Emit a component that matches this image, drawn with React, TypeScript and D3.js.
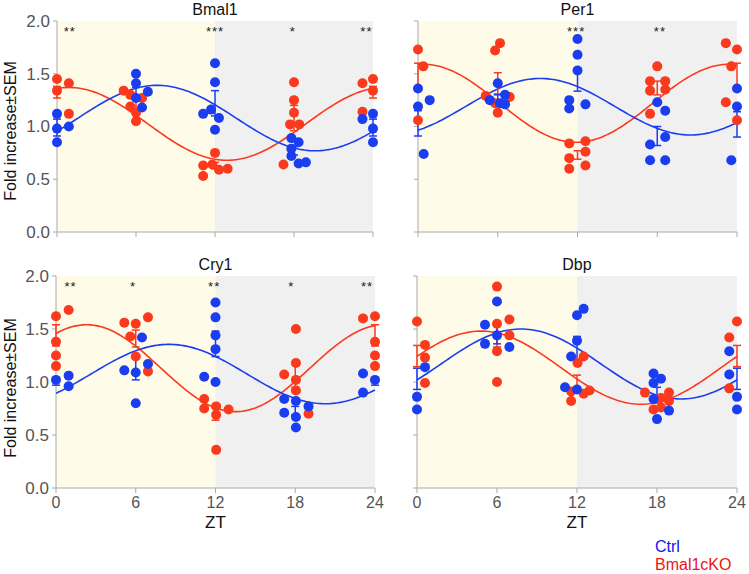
import * as d3 from "d3";

type Pt = [number, number]; // [ZT where the dot sits, fold increase]
type Bar = [number, number, number]; // [ZT, mean, SEM]
type Fit = { mesor: number; amp: number; acro: number; period: number };
type Star = [number, string];

const ztTicks = [0, 6, 12, 18, 24];
const foldTicks = [0, 0.5, 1, 1.5, 2];

// ---- Bmal1 ----
const bmal1Ctrl: Pt[] = [
  [0, 1.12], [0, 0.98], [0, 0.85], [0.9, 1.0],
  [6, 1.5], [6, 1.41], [6, 1.27], [6.46, 1.18], [6.9, 1.33],
  [12, 1.6], [12, 1.42], [12, 0.97], [11.1, 1.12], [11.7, 1.16], [12.3, 1.08],
  [17.8, 0.89], [17.8, 0.79], [17.8, 0.72], [18.35, 0.85], [18.35, 0.65], [18.9, 0.66],
  [24, 1.12], [24, 0.98], [24, 0.85], [23.2, 1.07],
];
const bmal1Ko: Pt[] = [
  [0, 1.45], [0, 1.34], [0.9, 1.41], [0.9, 1.12],
  [5.06, 1.34], [5.57, 1.3], [5.57, 1.19], [6, 1.13], [6, 1.05], [6.46, 1.27],
  [11.1, 0.53], [11.1, 0.63], [11.8, 0.64], [12, 0.75], [12.3, 0.59], [12.96, 0.6],
  [17.2, 0.64], [18, 1.42], [18, 1.25], [18, 1.13], [17.7, 1.02], [18.4, 1.02],
  [24, 1.45], [24, 1.34], [23.2, 1.41], [23.2, 1.14],
];
const bmal1CtrlBars: Bar[] = [[0, 0.99, 0.08], [6, 1.32, 0.05], [12, 1.22, 0.12], [18, 0.77, 0.04], [24, 0.99, 0.08]];
const bmal1KoBars: Bar[] = [[0, 1.325, 0.055], [6, 1.21, 0.05], [12, 0.63, 0.03], [18, 1.08, 0.12], [24, 1.325, 0.055]];
const bmal1CtrlFit: Fit = { mesor: 1.08, amp: 0.31, acro: 7.6, period: 24 };
const bmal1KoFit: Fit = { mesor: 1.025, amp: 0.345, acro: 0.9, period: 24 };
const bmal1Stars: Star[] = [[0.97, "**"], [12, "***"], [17.9, "*"], [23.5, "**"]];

// ---- Per1 ----
const per1Ctrl: Pt[] = [
  [0, 1.36], [0, 1.19], [0.88, 1.25], [0.43, 0.74],
  [6, 1.41], [5.4, 1.25], [6.17, 1.22], [6.55, 1.3], [6.55, 1.21],
  [12, 1.83], [12, 1.68], [12, 1.53], [11.38, 1.25], [11.38, 1.17], [12.6, 1.21],
  [17.46, 0.83], [17.46, 0.68], [18, 1.23], [18.6, 1.15], [18.6, 0.9], [18.6, 0.68],
  [24, 1.36], [24, 1.19], [23.57, 0.68],
];
const per1Ko: Pt[] = [
  [0, 1.73], [0.4, 1.57], [0, 1.06],
  [5.8, 1.72], [6.17, 1.79], [5.1, 1.29], [5.8, 1.22], [6.0, 1.13], [6.9, 1.28],
  [11.38, 0.84], [11.38, 0.7], [11.38, 0.6], [12.6, 0.86], [12.6, 0.76], [12.6, 0.63],
  [17.46, 1.43], [17.46, 1.34], [17.46, 1.12], [18, 1.57], [18.6, 1.43], [18.6, 1.35],
  [23.16, 1.79], [24, 1.73], [23.57, 1.57], [23.16, 1.23], [24, 1.06],
];
const per1CtrlBars: Bar[] = [[0, 1.03, 0.12], [6, 1.27, 0.03], [12, 1.445, 0.11], [18, 0.91, 0.09], [24, 1.02, 0.12]];
const per1KoBars: Bar[] = [[0, 1.485, 0.115], [6, 1.41, 0.1], [12, 0.73, 0.04], [18, 1.365, 0.065], [24, 1.485, 0.115]];
const per1CtrlFit: Fit = { mesor: 1.1875, amp: 0.2675, acro: 9.2, period: 22.6 };
const per1KoFit: Fit = { mesor: 1.22, amp: 0.37, acro: 0.4, period: 23 };
const per1Stars: Star[] = [[11.9, "***"], [18.2, "**"]];

// ---- Cry1 ----
const cry1Ctrl: Pt[] = [
  [0, 1.02], [0.95, 1.06], [0.95, 0.96],
  [5.14, 1.11], [6, 1.09], [6, 0.8], [6.47, 1.42], [6.92, 1.17],
  [12, 1.75], [12, 1.61], [12, 1.44], [12, 1.31], [12, 1.0], [11.15, 1.05],
  [17.17, 0.84], [17.17, 0.71], [18.05, 0.82], [18.05, 0.67], [18.05, 0.57], [19, 0.77],
  [23.1, 1.08], [23.1, 0.9], [24, 1.02],
];
const cry1Ko: Pt[] = [
  [0, 1.62], [0, 1.38], [0, 1.25], [0, 1.15], [0.95, 1.68],
  [5.14, 1.56], [5.59, 1.43], [6, 1.55], [6, 1.24], [6.92, 1.61], [6.92, 1.1],
  [11.15, 0.84], [11.15, 0.75], [12.05, 0.77], [12.05, 0.69], [12.98, 0.74], [12.05, 0.36],
  [17.17, 1.07], [18.05, 1.5], [18.05, 1.18], [18.05, 1.02], [18.05, 0.92], [19, 0.7],
  [23.1, 1.6], [24, 1.62], [24, 1.38], [24, 1.25], [24, 1.15],
];
const cry1CtrlBars: Bar[] = [[0, 1.0, 0.03], [6, 1.13, 0.11], [12, 1.36, 0.12], [18, 0.73, 0.04], [24, 1.0, 0.03]];
const cry1KoBars: Bar[] = [[0, 1.44, 0.1], [6, 1.41, 0.08], [12, 0.7, 0.06], [18, 1.06, 0.11], [24, 1.44, 0.1]];
const cry1CtrlFit: Fit = { mesor: 1.075, amp: 0.28, acro: 8.5, period: 23.5 };
const cry1KoFit: Fit = { mesor: 1.13, amp: 0.41, acro: 2.3, period: 22.4 };
const cry1Stars: Star[] = [[1.1, "**"], [5.8, "*"], [11.9, "**"], [17.7, "*"], [23.4, "**"]];

// ---- Dbp ----
const dbpCtrl: Pt[] = [
  [0, 0.86], [0, 0.74], [0.6, 1.14],
  [6, 1.76], [5.1, 1.54], [5.1, 1.36], [6, 1.44], [6.93, 1.33],
  [12, 1.63], [12.5, 1.69], [12, 1.39], [11.56, 1.24], [11.1, 0.95], [12, 0.93],
  [17.74, 1.08], [17.74, 0.99], [17.74, 0.84], [18.3, 1.03], [18, 0.65], [18.9, 0.73],
  [23.42, 1.29], [23.42, 1.07], [24, 0.86], [24, 0.74],
];
const dbpKo: Pt[] = [
  [0, 1.57], [0.6, 1.35], [0.6, 1.23], [0.6, 0.99],
  [6, 1.9], [6, 1.55], [6, 1.29], [6, 1.0], [6.93, 1.59], [6.93, 1.44],
  [11.56, 0.91], [11.56, 0.82], [12.04, 1.18], [12.5, 1.24], [12.5, 0.89], [12.94, 0.92],
  [17.1, 0.9], [17.74, 0.74], [18.3, 0.85], [18.3, 0.76], [18.9, 0.9], [18.9, 0.82],
  [24, 1.57], [23.42, 1.42], [23.42, 0.94],
];
const dbpCtrlBars: Bar[] = [[0, 1.03, 0.1], [6, 1.46, 0.1], [12, 1.3, 0.13], [18, 0.9, 0.05], [24, 1.03, 0.1]];
const dbpKoBars: Bar[] = [[0, 1.245, 0.1], [6, 1.43, 0.1], [12, 1.01, 0.055], [18, 0.83, 0.03], [24, 1.245, 0.1]];
const dbpCtrlFit: Fit = { mesor: 1.17, amp: 0.33, acro: 7.8, period: 24 };
const dbpKoFit: Fit = { mesor: 1.135, amp: 0.345, acro: 4.8, period: 24 };
const dbpStars: Star[] = [];

const BLUE = "#1b3df0";
const RED = "#fb3a1d";
const FONT = "'Liberation Sans', Arial, Helvetica, sans-serif";

const panels = [
  { title: "Bmal1", ctrl: bmal1Ctrl, ko: bmal1Ko, ctrlBars: bmal1CtrlBars, koBars: bmal1KoBars, ctrlFit: bmal1CtrlFit, koFit: bmal1KoFit, stars: bmal1Stars, left: 57, right: 373, top: 21, bottom: 232, yLabels: true, xLabels: false },
  { title: "Per1", ctrl: per1Ctrl, ko: per1Ko, ctrlBars: per1CtrlBars, koBars: per1KoBars, ctrlFit: per1CtrlFit, koFit: per1KoFit, stars: per1Stars, left: 418, right: 737, top: 21, bottom: 232, yLabels: false, xLabels: false },
  { title: "Cry1", ctrl: cry1Ctrl, ko: cry1Ko, ctrlBars: cry1CtrlBars, koBars: cry1KoBars, ctrlFit: cry1CtrlFit, koFit: cry1KoFit, stars: cry1Stars, left: 56, right: 375, top: 276, bottom: 488, yLabels: true, xLabels: true },
  { title: "Dbp", ctrl: dbpCtrl, ko: dbpKo, ctrlBars: dbpCtrlBars, koBars: dbpKoBars, ctrlFit: dbpCtrlFit, koFit: dbpKoFit, stars: dbpStars, left: 417, right: 737, top: 276, bottom: 488, yLabels: false, xLabels: true },
];

function Panel({ p }: { p: (typeof panels)[number] }) {
  const x = d3.scaleLinear().domain([0, 24]).range([p.left, p.right]);
  const y = d3.scaleLinear().domain([0, 2]).range([p.bottom, p.top]);
  const fmt = d3.format(".1f");
  const line = d3.line<number>().x((t) => x(t));
  const fitPath = (f: Fit) =>
    line.y((t) => y(f.mesor + f.amp * Math.cos((2 * Math.PI * (t - f.acro)) / f.period)))(d3.range(0, 24.01, 0.2)) || "";

  const bars = (b: Bar[], color: string) =>
    b.map(([t, m, s], i) => (
      <g key={i} stroke={color} strokeWidth={1.5}>
        <line x1={x(t)} x2={x(t)} y1={y(m - s)} y2={y(m + s)} />
        <line x1={x(t) - 4} x2={x(t) + 4} y1={y(m - s)} y2={y(m - s)} />
        <line x1={x(t) - 4} x2={x(t) + 4} y1={y(m + s)} y2={y(m + s)} />
      </g>
    ));

  const dots = (pts: Pt[], color: string) =>
    pts.map(([t, v], i) => <circle key={i} cx={x(t)} cy={y(v)} r={5} fill={color} />);

  const midX = (p.left + p.right) / 2;

  return (
    <g fontFamily={FONT}>
      <rect x={x(0)} y={y(2)} width={x(12) - x(0)} height={y(0) - y(2)} fill="#fefce9" />
      <rect x={x(12)} y={y(2)} width={x(24) - x(12)} height={y(0) - y(2)} fill="#f0f0f0" />

      {/* axes */}
      <g stroke="#aaaaaa" strokeWidth={1}>
        <line x1={x(0)} x2={x(0)} y1={y(0)} y2={y(2)} />
        <line x1={x(0)} x2={x(24)} y1={y(0)} y2={y(0)} />
        {foldTicks.map((v) => (
          <line key={v} x1={x(0) - 4} x2={x(0)} y1={y(v)} y2={y(v)} />
        ))}
        {ztTicks.map((t) => (
          <line key={t} x1={x(t)} x2={x(t)} y1={y(0)} y2={y(0) + 5} />
        ))}
      </g>
      {p.yLabels &&
        foldTicks.map((v) => (
          <text key={v} x={x(0) - 7} y={y(v)} dy="0.35em" textAnchor="end" fontSize={17} fill="#555">
            {fmt(v)}
          </text>
        ))}
      {p.xLabels &&
        ztTicks.map((t) => (
          <text key={t} x={x(t)} y={p.bottom + 20} textAnchor="middle" fontSize={16} fill="#555">
            {t}
          </text>
        ))}
      {p.xLabels && (
        <text x={midX} y={p.bottom + 40} textAnchor="middle" fontSize={17} fill="#111">
          ZT
        </text>
      )}

      <text x={midX} y={p.top - 6} textAnchor="middle" fontSize={16} fill="#111">
        {p.title}
      </text>

      {p.stars.map(([t, s], i) => (
        <text key={i} x={x(t)} y={y(1.855)} textAnchor="middle" fontSize={13} letterSpacing={1} fill="#222">
          {s}
        </text>
      ))}

      <path d={fitPath(p.koFit)} fill="none" stroke={RED} strokeWidth={1.6} />
      <path d={fitPath(p.ctrlFit)} fill="none" stroke={BLUE} strokeWidth={1.6} />
      {bars(p.koBars, RED)}
      {bars(p.ctrlBars, BLUE)}
      {dots(p.ko, RED)}
      {dots(p.ctrl, BLUE)}
    </g>
  );
}

export default function App() {
  return (
    <svg width={749} height={574} style={{ position: "absolute", left: 0, top: 0, background: "#fff" }}>
      {panels.map((p) => (
        <Panel key={p.title} p={p} />
      ))}
      <g fontFamily={FONT} fontSize={16}>
        <text transform="translate(16,131) rotate(-90)" textAnchor="middle" fill="#111">
          Fold increase±SEM
        </text>
        <text transform="translate(16,388) rotate(-90)" textAnchor="middle" fill="#111">
          Fold increase±SEM
        </text>
        <text x={655} y={552} fill="#1414ee">Ctrl</text>
        <text x={655} y={570} fill="#ee1414">Bmal1cKO</text>
      </g>
    </svg>
  );
}
